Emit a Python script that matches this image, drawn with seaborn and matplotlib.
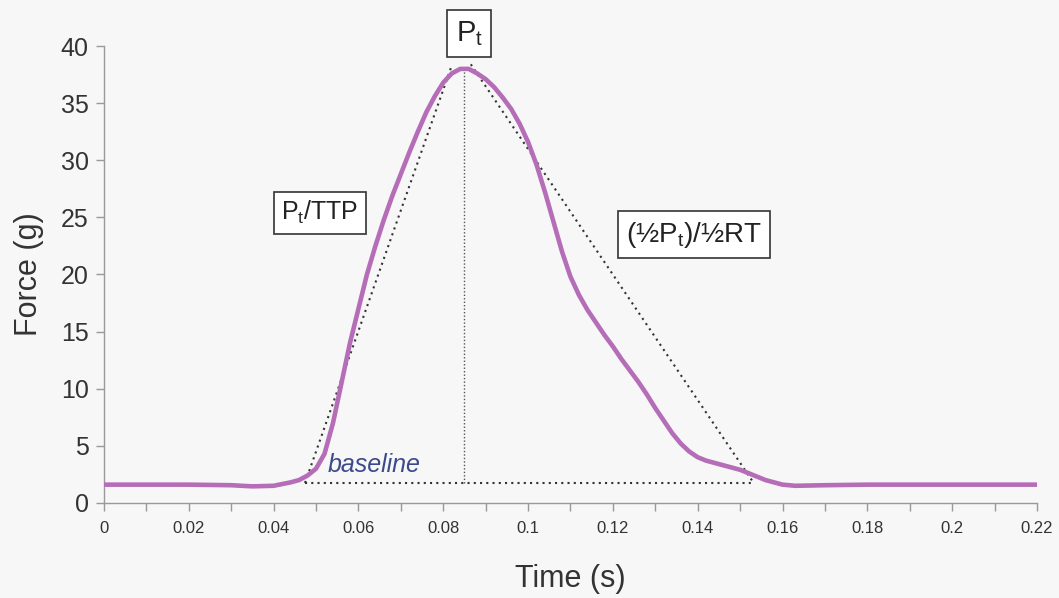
import matplotlib
matplotlib.use("Agg")
import matplotlib.pyplot as plt
import pandas as pd
import seaborn as sns

# twitch force trace
time_s = [0, 0.01, 0.02, 0.03, 0.035, 0.04, 0.044, 0.046, 0.048, 0.050, 0.052,
          0.054, 0.056, 0.058, 0.060, 0.062, 0.064, 0.066, 0.068, 0.070, 0.072,
          0.074, 0.076, 0.078, 0.080, 0.082, 0.084, 0.086, 0.088, 0.090, 0.092,
          0.094, 0.096, 0.098, 0.100, 0.102, 0.104, 0.106, 0.108, 0.110, 0.112,
          0.114, 0.116, 0.118, 0.120, 0.122, 0.124, 0.126, 0.128, 0.130, 0.132,
          0.134, 0.136, 0.138, 0.140, 0.142, 0.144, 0.146, 0.148, 0.150, 0.152,
          0.154, 0.156, 0.158, 0.160, 0.163, 0.17, 0.18, 0.2, 0.22]
force_g = [1.6, 1.6, 1.6, 1.55, 1.45, 1.5, 1.8, 2.0, 2.4, 3.0, 4.3,
           7.0, 10.5, 14.0, 17.0, 20.0, 22.5, 24.8, 26.9, 28.8, 30.7,
           32.5, 34.2, 35.6, 36.8, 37.6, 38.0, 38.0, 37.6, 37.1, 36.4,
           35.5, 34.5, 33.2, 31.6, 29.6, 27.2, 24.6, 22.0, 19.8, 18.2,
           16.9, 15.8, 14.7, 13.7, 12.6, 11.6, 10.6, 9.5, 8.3, 7.2,
           6.1, 5.2, 4.5, 4.0, 3.7, 3.5, 3.3, 3.1, 2.9, 2.6,
           2.3, 2.0, 1.8, 1.6, 1.5, 1.55, 1.6, 1.6, 1.6]

# construction lines (triangle + peak marker)
base_level = 1.75
rise_t = [0.0474, 0.0821]
rise_f = [1.75, 38.4]
fall_t = [0.0865, 0.1532]
fall_f = [38.4, 1.75]
peak_t = 0.0849
peak_f = 38.2
base_t = [0.0474, 0.1532]

x_ticks = [0, 0.02, 0.04, 0.06, 0.08, 0.1, 0.12, 0.14, 0.16, 0.18, 0.2, 0.22]
x_labels = ["0", "0.02", "0.04", "0.06", "0.08", "0.1", "0.12", "0.14", "0.16", "0.18", "0.2", "0.22"]
y_ticks = [0, 5, 10, 15, 20, 25, 30, 35, 40]

df = pd.DataFrame({"Time (s)": time_s, "Force (g)": force_g})

sns.set_style("ticks")
plt.rcParams["font.family"] = ["Liberation Sans", "DejaVu Sans"]

bg = "#f7f7f7"
fig = plt.figure(figsize=(10.59, 5.98), dpi=100, facecolor=bg)
ax = fig.add_axes([0.0982, 0.159, 0.881, 0.764], facecolor=bg)

dot = dict(color="#333333", linestyle=(0, (1, 2)), linewidth=1.5)
ax.plot(rise_t, rise_f, **dot)
ax.plot(fall_t, fall_f, **dot)
ax.plot(base_t, [base_level, base_level], **dot)
ax.plot([peak_t, peak_t], [base_level, peak_f], color="#555555",
        linestyle=(0, (1, 1.5)), linewidth=1.0)

sns.lineplot(data=df, x="Time (s)", y="Force (g)", ax=ax, color="#b56db8",
             linewidth=3.3, zorder=3)

ax.set_xlim(0, 0.22)
ax.set_ylim(0, 40)
ax.set_xticks(x_ticks)
ax.set_xticklabels(x_labels, fontsize=12, color="#333333",
                   family=["Liberation Sans Narrow", "Liberation Sans"])
ax.set_xticks([t + 0.01 for t in x_ticks[:-1]], minor=True)
ax.set_yticks(y_ticks)
ax.set_yticklabels([str(v) for v in y_ticks], fontsize=18, color="#333333")
ax.tick_params(axis="both", which="both", direction="out", length=6,
               width=1, color="#999999")
ax.tick_params(axis="x", which="major", pad=7)
ax.tick_params(axis="y", pad=5)

sns.despine(ax=ax)
for s in ["left", "bottom"]:
    ax.spines[s].set_color("#999999")
    ax.spines[s].set_linewidth(1)

ax.set_xlabel("Time (s)", fontsize=22, color="#333333", labelpad=20)
ax.set_ylabel("Force (g)", fontsize=22, color="#333333", labelpad=12)

box = dict(boxstyle="square,pad=0.3", facecolor="white", edgecolor="#333333", linewidth=1.2)
ax.text(0.0861, 41.1, r"P$_\mathregular{t}$", fontsize=21, ha="center", va="center",
        bbox=box, clip_on=False, color="#222222")
ax.text(0.0509, 25.4, r"P$_\mathregular{t}$/TTP", fontsize=18, ha="center", va="center",
        bbox=box, color="#222222")
ax.text(0.1391, 23.5, "(½P$_\\mathregular{t}$)/½RT", fontsize=20, ha="center", va="center",
        bbox=box, color="#222222")
ax.text(0.0528, 2.3, "baseline", fontsize=18, style="italic", color="#3c4a8c",
        ha="left", va="bottom")

fig.savefig("out.png", dpi=100, facecolor=bg)
